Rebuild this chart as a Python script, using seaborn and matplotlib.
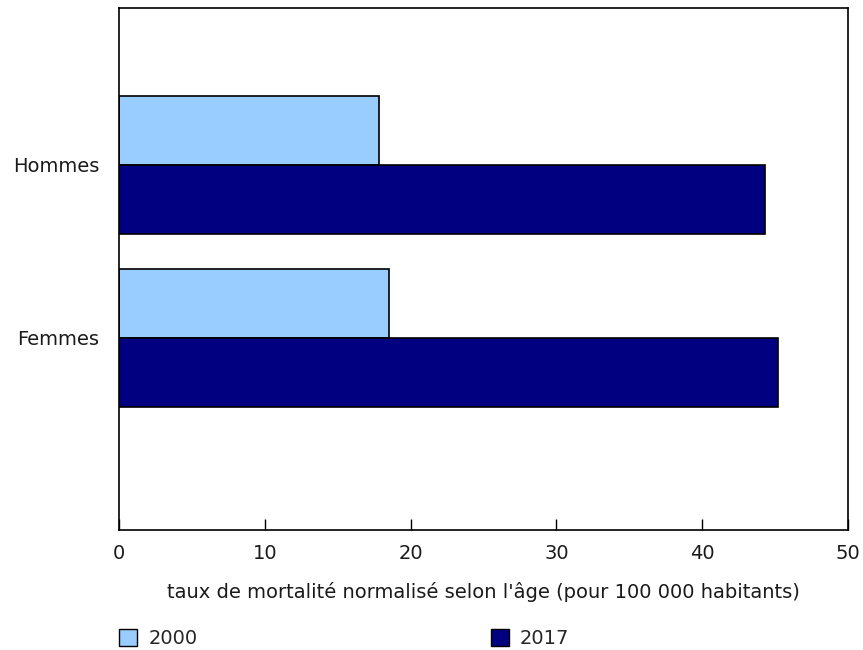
import matplotlib
matplotlib.use("Agg")
import matplotlib.pyplot as plt
import seaborn as sns
import pandas as pd
from matplotlib.patches import Patch

categories = ["Hommes", "Femmes"]
series = ["2000", "2017"]
values_2000 = [17.8, 18.5]
values_2017 = [44.3, 45.2]
colors = ["#99CCFF", "#000080"]
xticks = [0, 10, 20, 30, 40, 50]
xlabel = "taux de mortalité normalisé selon l'âge (pour 100 000 habitants)"

df = pd.DataFrame({
    "cat": categories * 2,
    "year": [series[0]] * 2 + [series[1]] * 2,
    "val": values_2000 + values_2017,
})

sns.set_theme(style="white")
plt.rcParams["font.family"] = ["DejaVu Sans"]
FS = 14

fig = plt.figure(figsize=(8.63, 6.5), dpi=100)
ax = fig.add_axes([119 / 863, 120 / 650, (848 - 119) / 863, (530 - 8) / 650])

sns.barplot(data=df, y="cat", x="val", hue="year", orient="h",
            palette=colors, order=categories, hue_order=series,
            edgecolor="black", linewidth=1.2, width=0.8, ax=ax,
            legend=False, errorbar=None, saturation=1)

ax.set_xlim(0, 50)
ax.set_ylim(2.11, -0.907)
ax.set_xticks(xticks)
ax.set_xticklabels([str(t) for t in xticks], fontsize=FS, color="#1a1a1a")
ax.tick_params(axis="x", direction="in", length=8, width=1, color="black", pad=10, bottom=True)
ax.tick_params(axis="y", length=0, labelsize=FS, pad=14, labelcolor="#1a1a1a")
ax.set_ylabel("")
ax.set_xlabel(xlabel, fontsize=FS, labelpad=14, color="#1a1a1a")
for s in ax.spines.values():
    s.set_visible(True)
    s.set_color("black")
    s.set_linewidth(1.2)

handles = [Patch(facecolor=c, edgecolor="black", linewidth=1) for c in colors]
fig.legend(handles, series, loc="lower left", bbox_to_anchor=(119 / 863, 2 / 650),
           ncol=2, frameon=False, fontsize=FS, handlelength=0.95, handleheight=0.95,
           handletextpad=0.55, columnspacing=15.1, borderpad=0, borderaxespad=0)

fig.savefig("out.png", dpi=100)
